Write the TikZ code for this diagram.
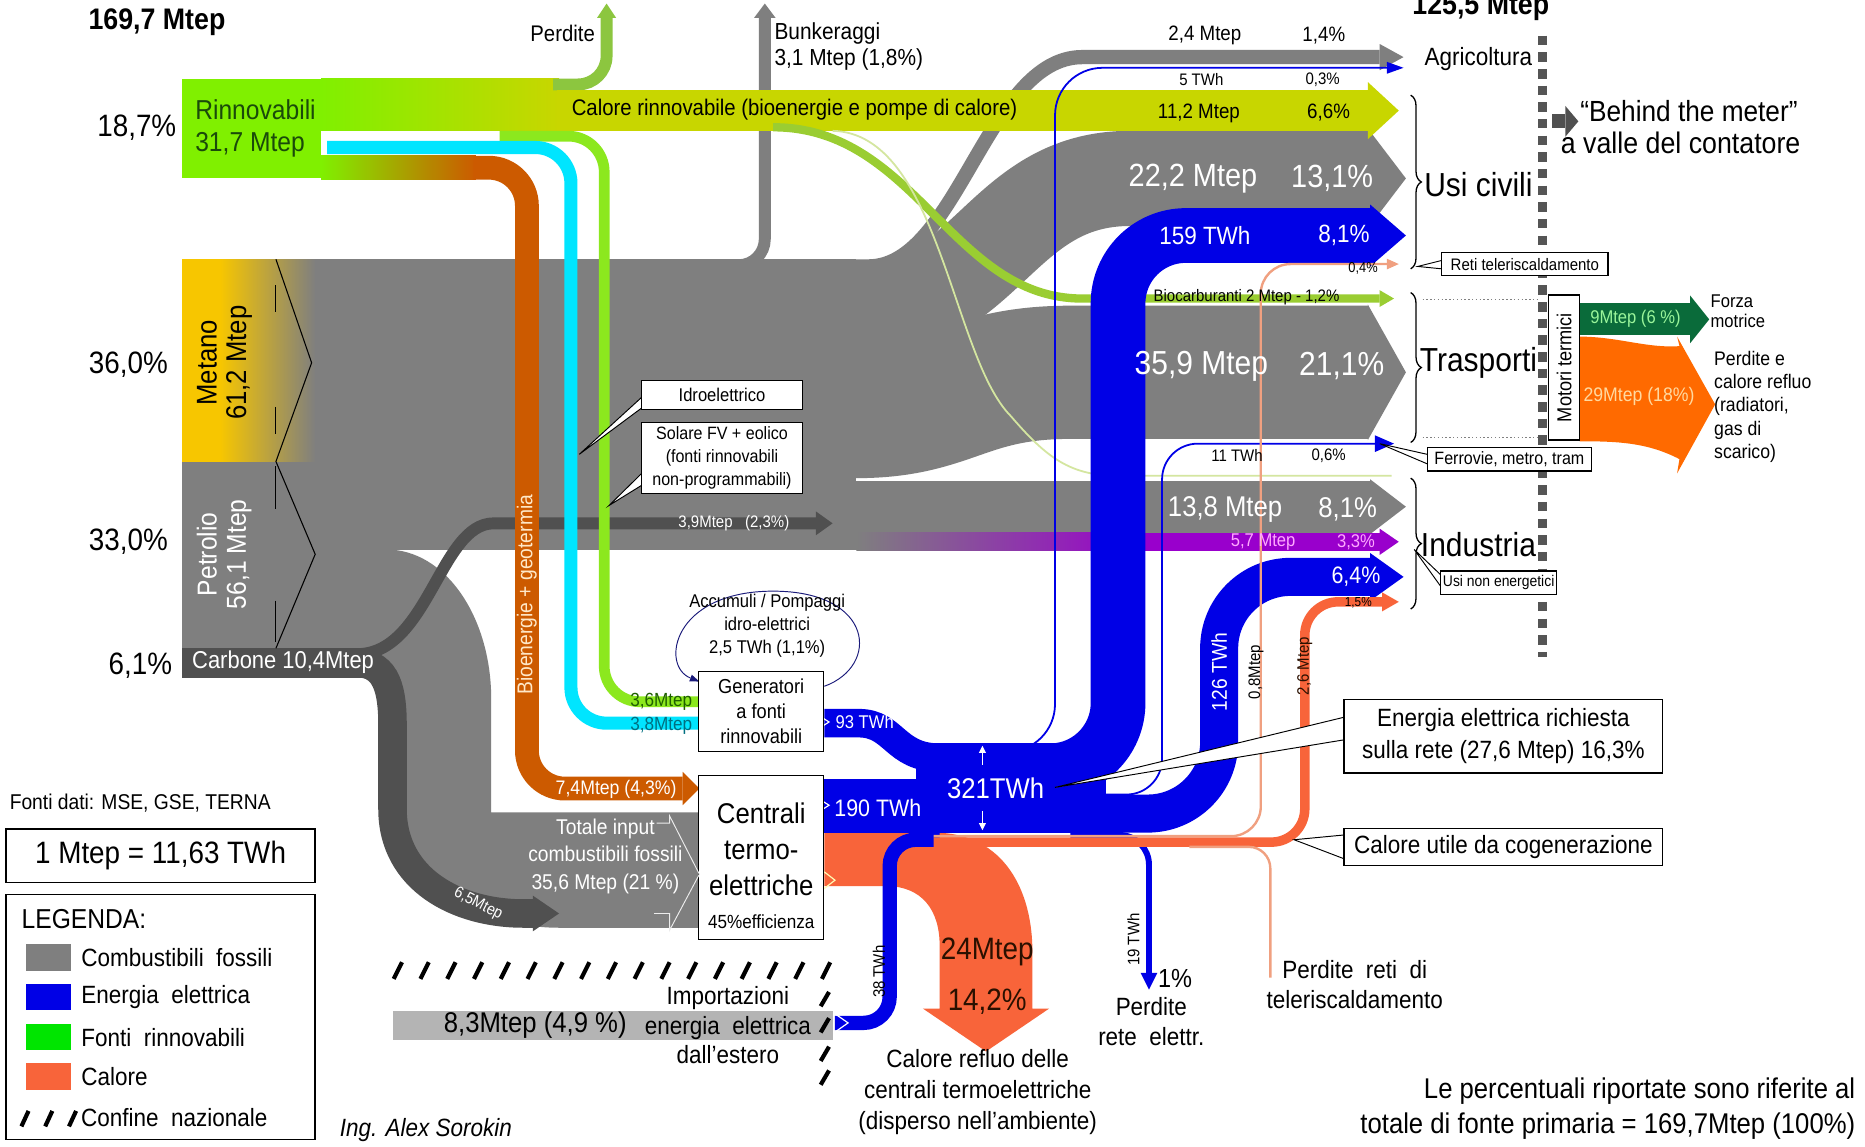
\documentclass[tikz,border=0pt]{standalone}
\usepackage{fontspec}
\setmainfont{Liberation Sans}[FakeStretch=0.9]
\usetikzlibrary{arrows.meta,decorations.pathreplacing,positioning}
\newcommand\fsz[2]{\fontsize{#1}{#2}\selectfont}
\definecolor{fossil}{HTML}{7F7F7F}
\definecolor{carb}{HTML}{505050}
\definecolor{metanoY}{HTML}{F7C600}
\definecolor{lime}{HTML}{80F000}
\definecolor{calor}{HTML}{C8D600}
\definecolor{perd}{HTML}{8CC63F}
\definecolor{lgreen}{HTML}{8CE81E}
\definecolor{cyanb}{HTML}{00E5FF}
\definecolor{bio}{HTML}{CC5A00}
\definecolor{biocar}{HTML}{9ACD32}
\definecolor{pale}{HTML}{D4E6A0}
\definecolor{heat}{HTML}{F8643A}
\definecolor{salmon}{HTML}{F0A080}
\definecolor{purp}{HTML}{9900CC}
\definecolor{elec}{HTML}{0000E6}
\definecolor{dkgreen}{HTML}{0A6B3A}
\definecolor{motor}{HTML}{FF6A00}
\definecolor{impgray}{HTML}{B4B4B4}
\definecolor{dashc}{HTML}{555555}
\definecolor{navy}{HTML}{1A1A7A}
\definecolor{rtxt}{HTML}{1A4A0A}
\definecolor{cream}{HTML}{FFE8C8}
\definecolor{pinkl}{HTML}{FFA8FF}
\definecolor{lgtxt}{HTML}{9AF59A}
\definecolor{otxt}{HTML}{FFD9A0}
\definecolor{g36}{HTML}{1F5F00}
\definecolor{c38}{HTML}{006F80}
\definecolor{brn}{HTML}{2A1000}
\begin{document}
\begin{tikzpicture}[x=1pt,y=-1pt,
  every node/.style={inner sep=0pt},
  flow/.style={line cap=butt},
  tipT/.style 2 args={-{Triangle[length=#1,width=#2,line width=0pt]}},
  wl/.style={text=white},
  callbox/.style={draw=black, fill=white, line width=1.1pt, inner sep=2pt, align=center},
  wedge/.style={draw=black, fill=white, line width=0.8pt},
  brc/.style={decorate, decoration={brace, amplitude=9pt}, line width=1.1pt},
  hatch/.style={line width=3.5pt},
  legsq/.style={minimum width=38pt, minimum height=22pt},
  boxn/.style={draw, fill=white, line width=1pt, align=center}]
\useasboundingbox (0,0) rectangle (1568,964);
\fill[white] (0,0) rectangle (1568,964);

% fossili
\fill[fossil] (265,218) rectangle (720,462);
\fill[fossil] (265,462) -- (325,462) .. controls (374,462) and (413,518) .. (413,588)
  -- (413,683) -- (592,683) -- (592,780) -- (470,780)
  .. controls (385,780) and (330,720) .. (330,640) -- (330,570) -- (265,570) -- cycle;
\draw[flow, fossil, line width=10pt, rounded corners=22pt, tipT={12pt}{18pt}] (600,223) -- (643,223) -- (643,3);
\draw[flow, fossil, line width=12pt, tipT={20pt}{22pt}] (600,224) -- (730,224) .. controls (805,224) and (830,48) .. (910,48) -- (1180,48);
\draw[flow, fossil, line width=80pt, tipT={32pt}{84pt}] (600,262) -- (720,262) .. controls (830,262) and (840,150) .. (950,150) -- (1182,150);
\draw[flow, fossil, line width=112pt, tipT={32pt}{114pt}] (600,346) -- (720,346) .. controls (800,346) and (810,313) .. (900,313) -- (1182,313);
\draw[flow, fossil, line width=44pt, tipT={30pt}{46pt}] (265,426) -- (1182,426);
\shade[left color=fossil, right color=purp] (720,448) rectangle (960,463);
\draw[flow, purp, line width=15pt, tipT={16pt}{22pt}] (958,455.5) -- (1176,455.5);
\fill[metanoY] (153,218) rectangle (185,388);
\shade[left color=metanoY, right color=fossil] (185,218) rectangle (265,388);
\fill[fossil] (153,388) rectangle (265,545);
\fill[carb] (153,545) rectangle (320,570);
\draw[flow, carb, line width=24pt, tipT={22pt}{30pt}] (300,557.5) .. controls (326,557.5) and (330,582) .. (330,610) -- (330,680) .. controls (330,740) and (385,768) .. (440,768) -- (470,768);
\draw[flow, carb, line width=10pt, tipT={14pt}{20pt}] (300,550) .. controls (360,550) and (370,440) .. (415,440) -- (700,440);
\draw[black, line width=0.9pt] (232,218) -- (262,305) -- (232,388) -- (265,466) -- (232,545);
\draw[black, line width=0.9pt] (232,240) -- (232,262) (232,342) -- (232,365) (232,392) -- (232,428) (232,505) -- (232,540);

% rinnovabili
\fill[lime] (153,66) rectangle (270,150);
\shade[left color=lime, right color=calor] (270,66) rectangle (470,110);
\draw[flow, perd, line width=10pt, rounded corners=24pt, tipT={12pt}{16pt}] (465,71) -- (510,71) -- (510,3);
\draw[flow, calor, line width=34pt, tipT={26pt}{48pt}] (468,93) -- (1176,93);
\draw[flow, biocar, line width=7pt, tipT={12pt}{14pt}] (650,107) .. controls (770,107) and (800,251) .. (910,251) -- (1172,251);
\draw[pale, line width=1.5pt] (700,110) .. controls (790,112) and (800,300) .. (850,350) .. controls (880,385) and (900,400) .. (940,400) -- (1170,400);
\draw[flow, lgreen, line width=9pt, rounded corners=30pt] (420,114.5) -- (508,114.5) -- (508,590) -- (588,590);
\draw[flow, cyanb, line width=11pt, rounded corners=30pt] (275,124) -- (480,124) -- (480,608) -- (588,608);
\shade[left color=lime, right color=bio] (270,131) rectangle (400,151);
\draw[flow, bio, line width=20pt, rounded corners=32pt, tipT={14pt}{28pt}] (398,141) -- (443,141) -- (443,663) -- (588,663);

% calore refluo
\fill[heat] (693,700) -- (785,700) .. controls (845,700) and (868,750) .. (868,800) -- (868,848) -- (882,848) -- (829,884) -- (776,848) -- (790,848) -- (790,795) .. controls (790,765) and (775,745) .. (745,745) -- (693,745) -- cycle;

% energia elettrica
\fill[elec] (770,625) rectangle (930,700);
\draw[flow, elec, line width=45pt] (693,677.5) -- (790,677.5);
\draw[flow, elec, line width=24pt] (693,608) -- (722,608) .. controls (752,608) and (752,637) .. (790,637);
\draw[flow, elec, line width=46pt, rounded corners=57pt, tipT={30pt}{52pt}] (850,648) -- (940,648) -- (940,198) -- (1182,198);
\draw[flow, elec, line width=32pt, rounded corners=60pt, tipT={28pt}{40pt}] (900,684) -- (1025,684) -- (1025,485) -- (1180,485);
\draw[flow, elec, line width=1.5pt, rounded corners=40pt, tipT={14pt}{10pt}] (820,632) -- (887,632) -- (887,57) -- (1180,57);
\draw[flow, elec, line width=1.5pt, rounded corners=30pt, tipT={16pt}{14pt}] (930,668) -- (977,668) -- (977,373) -- (1172,373);
\draw[flow, elec, line width=5pt, rounded corners=25pt, tipT={14pt}{14pt}] (900,702) -- (966,702) -- (966,832);
\draw[flow, elec, line width=12pt, rounded corners=22pt] (702,860) -- (748,860) -- (748,706) -- (790,706);

% calore utile
\draw[flow, heat, line width=8pt, rounded corners=28pt, tipT={14pt}{16pt}] (785,708) -- (1097,708) -- (1097,506) -- (1176,506);
\draw[flow, salmon, line width=2pt, rounded corners=25pt, tipT={10pt}{9pt}] (785,703) -- (1060,703) -- (1060,222) -- (1176,222);
\draw[flow, salmon, line width=2pt, rounded corners=18pt] (1000,712) -- (1068,712) -- (1068,822);

\draw[white, line width=1pt] (686,600) -- (697,607) -- (686,614);
\draw[white, line width=1pt] (686,670) -- (697,677) -- (686,684);
\draw[white, line width=1pt] (703,853) -- (713,860) -- (703,867);
\draw[white!70!yellow, line width=1pt] (693,733) -- (702,740) -- (693,747);
\draw[white, line width=1.2pt, tipT={6pt}{6pt}] (826,643) -- (826,627);
\draw[white, line width=1.2pt, tipT={6pt}{6pt}] (826,682) -- (826,698);
\draw[navy, line width=0.8pt, tipT={8pt}{6pt}] (693,577) .. controls (740,560) and (735,497) .. (650,497) .. controls (565,497) and (555,560) .. (588,573);

% confine e importazioni
\fill[impgray] (330,850) rectangle (700,874);
\foreach \i in {0,...,16} \draw[hatch] ({331+\i*22.5},823) -- ({338+\i*22.5},809);
\foreach \yy in {840,862,886,906} \draw[hatch] (690,{\yy+6}) -- (697,{\yy-6});

% contatore
\draw[dashc, line width=8pt, dash pattern=on 8pt off 6pt] (1297,30) -- (1297,552);
\draw[brc] (1186,80) -- (1186,226);
\draw[brc] (1186,246) -- (1186,372);
\draw[brc] (1186,402) -- (1186,512);
\draw[gray, line width=1.2pt, dotted] (1196,252) -- (1293,252);
\draw[gray, line width=1.2pt, dotted] (1196,368) -- (1293,368);
\draw[flow, carb, line width=12pt, tipT={11pt}{26pt}] (1305,102) -- (1327,102);
\draw[flow, dkgreen, line width=27pt, tipT={16pt}{40pt}] (1328,268.5) -- (1437,268.5);
\fill[motor] (1328,283) .. controls (1360,283) and (1385,293) .. (1412,291) -- (1410,283) -- (1442,340) -- (1410,398) -- (1412,386) .. controls (1385,372) and (1360,371) .. (1328,371) -- cycle;
\node[boxn, rotate=90, minimum width=122pt, minimum height=26pt, font=\fsz{17}{18}] (motori) at (1315,309) {Motori termici};

% richiami
\draw[wedge] (539.5,334) -- (487,382) -- (539.5,343);
\draw[wedge] (539.5,398) -- (512,425) -- (539.5,408);
\draw[wedge] (1212,219) -- (1192,224) -- (1212,226);
\draw[wedge] (1200,382) -- (1160,373) -- (1200,390);
\draw[wedge] (1212,484) -- (1189,462) -- (1212,494);
\draw[wedge] (1130,603) -- (887,662) -- (1130,622);
\draw[wedge] (1130,702) -- (1088,706) -- (1130,722);
\node[callbox, minimum width=135pt, minimum height=24pt, font=\fsz{15.5}{17}] (idro) at (607,332) {Idroelettrico};
\node[callbox, minimum width=135pt, minimum height=60pt, font=\fsz{15}{19}] (solare) at (607,385) {Solare FV + eolico\\(fonti rinnovabili\\non-programmabili)};
\node[callbox, minimum width=140pt, minimum height=19pt, font=\fsz{14}{15}] (reti) at (1282,222) {Reti teleriscaldamento};
\node[callbox, minimum width=138pt, minimum height=20pt, font=\fsz{15}{16}] (ferr) at (1269,386) {Ferrovie, metro, tram};
\node[callbox, minimum width=96pt, minimum height=20pt, font=\fsz{13}{14}] (usinon) at (1260,490) {Usi non energetici};
\node[callbox, minimum width=268pt, minimum height=62pt, font=\fsz{21}{27}] (enel) at (1264,619) {Energia elettrica richiesta\\sulla rete (27,6 Mtep) 16,3\%};
\node[callbox, minimum width=268pt, minimum height=31pt, font=\fsz{21}{23}] (calut) at (1264,712) {Calore utile da cogenerazione};

% centrali
\node[boxn, minimum width=105pt, minimum height=67pt, font=\fsz{17}{21}] (gen) at (640,598) {Generatori\\a fonti\\rinnovabili};
\node[boxn, minimum width=105pt, minimum height=138pt] (cent) at (640,721) {};
\node[font=\fsz{24}{30}, align=center] (centt) at (640,714) {Centrali\\termo-\\elettriche};
\node[font=\fsz{16}{18}] (eff) at (640,775) {45\%efficienza};
\node[font=\fsz{15.5}{19}, align=center] (accu) at (645,526) {Accumuli / Pompaggi\\idro-elettrici\\2,5 TWh (1,1\%)};

% etichette
\node[font=\bfseries\fsz{25}{28}] (totin) at (132,19) {169,7 Mtep};
\node[font=\bfseries\fsz{25}{28}] (totout) at (1245,6) {125,5 Mtep};
\node[font=\fsz{26}{28}] (pcr) at (115,107) {18,7\%};
\node[font=\fsz{26}{28}] (pcm) at (108,307) {36,0\%};
\node[font=\fsz{26}{28}] (pcp) at (108,455) {33,0\%};
\node[font=\fsz{26}{28}] (pcc) at (118,560) {6,1\%};
\node[anchor=west, text=rtxt, font=\fsz{23}{25}] (rinn) at (164,92) {Rinnovabili};
\node[anchor=west, text=rtxt, font=\fsz{23}{25}] (rinnv) at (164,122) {31,7 Mtep};
\node[rotate=90, font=\fsz{24}{26}] (met) at (174,305) {Metano};
\node[rotate=90, font=\fsz{24}{26}] (metv) at (201,305) {61,2 Mtep};
\node[wl, rotate=90, font=\fsz{23}{25}] (pet) at (174,466) {Petrolio};
\node[wl, rotate=90, font=\fsz{23}{25}] (petv) at (201,466) {56,1 Mtep};
\node[wl, font=\fsz{20.5}{22}] (carbl) at (238,557) {Carbone 10,4Mtep};
\node[font=\fsz{19}{21}] (perdl) at (473,28) {Perdite};
\node[anchor=west, font=\fsz{19.5}{21}] (bunk) at (651,28) {Bunkeraggi};
\node[anchor=west, font=\fsz{19.5}{21}] (bunkv) at (651,50) {3,1 Mtep (1,8\%)};
\node[font=\fsz{19}{21}] (calrl) at (668,92) {Calore rinnovabile (bioenergie e pompe di calore)};
\node[font=\fsz{17.5}{19}] (calrv) at (1008,95) {11,2 Mtep};
\node[font=\fsz{17.5}{19}] (calrp) at (1117,95) {6,6\%};
\node[font=\fsz{17.5}{19}] (agrv) at (1013,30) {2,4 Mtep};
\node[font=\fsz{17.5}{19}] (agrp) at (1113,30) {1,4\%};
\node[font=\fsz{14}{15}] (agev) at (1010,67) {5 TWh};
\node[font=\fsz{14}{15}] (agep) at (1112,67) {0,3\%};
\node[wl, font=\fsz{27}{29}] (civv) at (1003,150) {22,2 Mtep};
\node[wl, font=\fsz{27}{29}] (civp) at (1120,150) {13,1\%};
\node[wl, font=\fsz{21}{23}] (cive) at (1013,198) {159 TWh};
\node[wl, font=\fsz{21}{23}] (civep) at (1130,198) {8,1\%};
\node[font=\fsz{12}{13}] (civh) at (1146,226) {0,4\%};
\node[font=\fsz{14}{15}] (biol) at (1048,250) {Biocarburanti 2 Mtep - 1,2\%};
\node[wl, font=\fsz{28}{30}] (trav) at (1010,308) {35,9 Mtep};
\node[wl, font=\fsz{28}{30}] (trap) at (1128,308) {21,1\%};
\node[font=\fsz{14}{15}] (trae) at (1040,383) {11 TWh};
\node[font=\fsz{14}{15}] (traep) at (1117,383) {0,6\%};
\node[wl, font=\fsz{24}{26}] (indv) at (1030,428) {13,8 Mtep};
\node[wl, font=\fsz{24}{26}] (indp) at (1133,428) {8,1\%};
\node[text=pinkl, font=\fsz{15.5}{17}] (nev) at (1062,456) {5,7 Mtep};
\node[text=pinkl, font=\fsz{15.5}{17}] (nep) at (1140,456) {3,3\%};
\node[wl, font=\fsz{20}{22}] (inde) at (1140,485) {6,4\%};
\node[font=\fsz{11}{12}] (indh) at (1142,507) {1,5\%};
\node[wl, font=\fsz{14}{15}] (carl) at (617,440) {3,9Mtep\ \ \ (2,3\%)};
\node[text=cream, rotate=90, font=\fsz{18}{20}] (biog) at (443,500) {Bioenergie + geotermia};
\node[wl, rotate=-27, font=\fsz{13.5}{15}] (c65) at (402,760) {6,5Mtep};
\node[wl, font=\fsz{18}{23}, align=center] (totf) at (509,720) {Totale input\\combustibili fossili\\35,6 Mtep (21 \%)};
\draw[white!85!gray, line width=0.8pt] (552,692) -- (563,692) -- (563,686) -- (588,735) -- (563,782) -- (563,768) -- (550,768);
\node[font=\fsz{16}{17}, text=g36] (v36) at (556,590) {3,6Mtep};
\node[font=\fsz{16}{17}, text=c38] (v38) at (556,610) {3,8Mtep};
\node[wl, font=\fsz{16.5}{18}] (v74) at (518,664) {7,4Mtep (4,3\%)};
\node[wl, font=\fsz{15.5}{17}] (v93) at (727,607) {93 TWh};
\node[wl, font=\fsz{20}{22}] (v190) at (738,679) {190 TWh};
\node[wl, font=\fsz{24}{26}] (v321) at (837,663) {321TWh};
\node[wl, rotate=90, font=\fsz{18}{20}] (v126) at (1025,565) {126 TWh};
\node[rotate=90, font=\fsz{14}{15}] (v08) at (1056,565) {0,8Mtep};
\node[rotate=90, font=\fsz{14}{15}, text=brn] (v26) at (1097,560) {2,6 Mtep};
\node[rotate=90, font=\fsz{14}{15}] (v19) at (953,790) {19 TWh};
\node[rotate=90, font=\fsz{14}{15}] (v38t) at (739,817) {38 TWh};
\node[font=\fsz{22}{24}] (p1) at (988,823) {1\%};
\node[font=\fsz{21}{25}, align=center] (perdrete) at (968,859) {Perdite\\rete\ \ elettr.};
\node[text=brn, font=\fsz{26}{28}] (w24) at (830,800) {24Mtep};
\node[text=brn, font=\fsz{26}{28}] (w142) at (830,842) {14,2\%};
\node[font=\fsz{21}{26}, align=center] (refluo) at (822,918) {Calore refluo delle\\centrali termoelettriche\\(disperso nell’ambiente)};
\node[font=\fsz{21}{25}, align=center] (perdtel) at (1139,828) {Perdite\ \ reti\ \ di\\teleriscaldamento};
\node[font=\fsz{24}{26}] (imp) at (450,862) {8,3Mtep (4,9 \%)};
\node[font=\fsz{21}{25}, align=center] (impl) at (612,862) {Importazioni\\energia\ \ elettrica\\dall’estero};

% destra
\node[font=\fsz{21}{23}] (agri) at (1243,50) {Agricoltura};
\node[font=\fsz{28}{30}] (civ) at (1243,155) {Usi civili};
\node[font=\fsz{28}{30}] (tras) at (1243,305) {Trasporti};
\node[font=\fsz{28}{30}] (ind) at (1243,458) {Industria};
\node[font=\fsz{24.5}{27}] (btm) at (1420,93) {“Behind the meter”};
\node[font=\fsz{25}{27}] (btmv) at (1413,120) {a valle del contatore};
\node[text=lgtxt, font=\fsz{15.5}{17}] (m9) at (1375,268) {9Mtep (6 \%)};
\node[text=otxt, font=\fsz{16.5}{18}] (m29) at (1378,333) {29Mtep (18\%)};
\node[anchor=west, font=\fsz{15.5}{17}, align=left] (forza) at (1438,262) {Forza\\motrice};
\node[anchor=west, font=\fsz{16.5}{19.5}, align=left] (perdmot) at (1441,342) {Perdite e\\calore refluo\\(radiatori,\\gas di\\scarico)};

% legenda
\node[anchor=west, font=\fsz{18}{20}] (fonti) at (8,675) {Fonti dati: MSE, GSE, TERNA};
\node[draw, line width=1.2pt, minimum width=260pt, minimum height=45pt, font=\fsz{26}{28}] (conv) at (135,719.5) {1 Mtep = 11,63 TWh};
\node[draw, line width=1.2pt, minimum width=260pt, minimum height=206pt] (legbox) at (135,855) {};
\node[anchor=west, font=\fsz{23}{25}] (legt) at (18,773) {LEGENDA:};
\node[legsq, fill=fossil] (sqf) at (41,805) {};
\node[legsq, fill=elec] (sqe) at (41,838) {};
\node[legsq, fill=green!90!black] (sqr) at (41,872) {};
\node[legsq, fill=heat] (sqc) at (41,905) {};
\node[right=8pt of sqf, font=\fsz{21}{23}] (lf) {Combustibili\ \ fossili};
\node[right=8pt of sqe, font=\fsz{21}{23}] (le) {Energia\ \ elettrica};
\node[right=8pt of sqr, font=\fsz{21}{23}] (lr) {Fonti\ \ rinnovabili};
\node[right=8pt of sqc, font=\fsz{21}{23}] (lc) {Calore};
\foreach \xx in {18,38,58} \draw[hatch] (\xx,947) -- ({\xx+6},934);
\node[anchor=west, font=\fsz{21}{23}] (lb) at (68,940) {Confine\ \ nazionale};
\node[font=\itshape\fsz{21}{23}] (auth) at (358,950) {Ing. Alex Sorokin};
\node[anchor=east, align=right, font=\fsz{24}{29}] (nota) at (1560,932) {Le percentuali riportate sono riferite al\\totale di fonte primaria = 169,7Mtep (100\%)};
\end{tikzpicture}
\end{document}
